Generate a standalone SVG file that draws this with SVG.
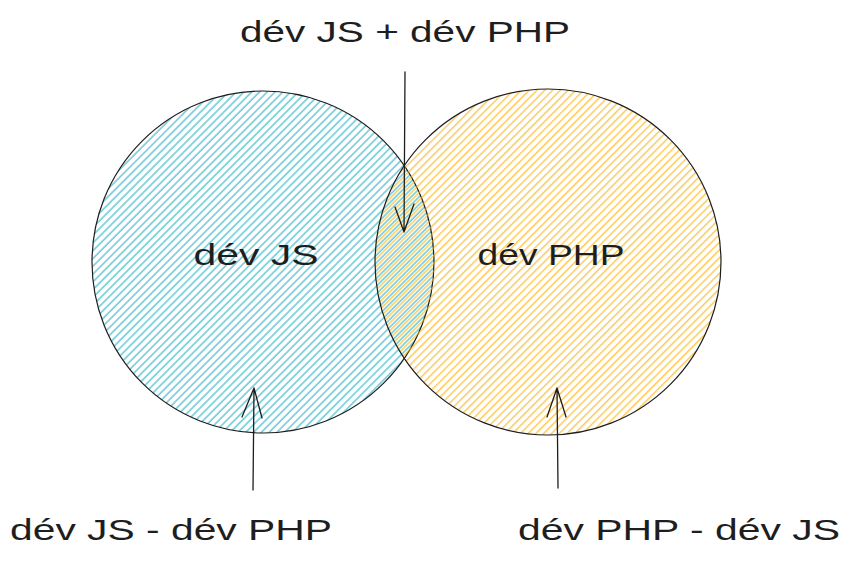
<svg xmlns="http://www.w3.org/2000/svg" width="851" height="564" viewBox="0 0 851 564">
<style>
.lbl{font-family:"Liberation Sans","DejaVu Sans",sans-serif;font-size:30px;fill:#1e1e1e;text-anchor:middle}
.ring{stroke:#1e1e1e;stroke-width:1.2}
.conn{stroke:#1e1e1e;stroke-width:1.3;fill:none;stroke-linecap:round;stroke-linejoin:round}
</style>
<defs>
<pattern id="hCyan" patternUnits="userSpaceOnUse" width="5.5" height="5.5" patternTransform="rotate(45)">
<line x1="1" y1="-1" x2="1" y2="7" stroke="#15aabf" stroke-width="1.3" stroke-opacity="0.75"/>
</pattern>
<pattern id="hYellow" patternUnits="userSpaceOnUse" width="5.5" height="5.5" patternTransform="rotate(45)">
<line x1="3.5" y1="-1" x2="3.5" y2="7" stroke="#fab005" stroke-width="1.3" stroke-opacity="0.75"/>
</pattern>
</defs>
<rect width="851" height="564" fill="#ffffff"/>
<g id="js">
<circle cx="263" cy="262" r="171" fill="url(#hCyan)" class="ring"/>
</g>
<g id="php">
<circle cx="548" cy="262" r="173" fill="url(#hYellow)" class="ring"/>
</g>
<g id="label-js"><text class="lbl" x="256" y="265" textLength="125" lengthAdjust="spacingAndGlyphs">dév JS</text></g>
<g id="label-php"><text class="lbl" x="551" y="265" textLength="147" lengthAdjust="spacingAndGlyphs">dév PHP</text></g>
<g id="label-both"><text class="lbl" x="405" y="42" textLength="330" lengthAdjust="spacingAndGlyphs">dév JS + dév PHP</text></g>
<g id="label-js-only"><text class="lbl" x="171" y="540" textLength="322" lengthAdjust="spacingAndGlyphs">dév JS - dév PHP</text></g>
<g id="label-php-only"><text class="lbl" x="679" y="540" textLength="322" lengthAdjust="spacingAndGlyphs">dév PHP - dév JS</text></g>
<g id="connectors">
<path class="conn" d="M405 72 L404 232 M395 207 L404 232 L414 204"/>
<path class="conn" d="M253 490 L254 388 M242 417 L254 388 L262 418"/>
<path class="conn" d="M558 488 L557 388 M547 417 L557 388 L566 417"/>
</g>
</svg>
